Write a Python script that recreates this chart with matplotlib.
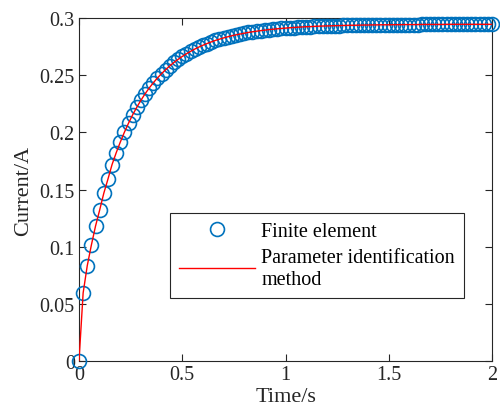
import matplotlib
matplotlib.use("Agg")
import matplotlib.pyplot as plt
import numpy as np

# Time samples (s): every 0.02 s from 0 to 2
time_s = [round(0.02 * k, 2) for k in range(101)]

# Finite element current (A)
fe_current = [
    0.0, 0.0595, 0.0834, 0.1015, 0.1180, 0.1320, 0.1467, 0.1590, 0.1718, 0.1821,
    0.1915, 0.2002, 0.2081, 0.2154, 0.2220, 0.2281, 0.2337, 0.2388, 0.2434, 0.2476,
    0.2514, 0.2549, 0.2582, 0.2612, 0.2639, 0.2664, 0.2687, 0.2708, 0.2728, 0.2746,
    0.2762, 0.2777, 0.2791, 0.2804, 0.2815, 0.2826, 0.2836, 0.2845, 0.2853, 0.2860,
    0.2867, 0.2874, 0.2880, 0.2885, 0.2890, 0.2894, 0.2899, 0.2902, 0.2906, 0.2909,
    0.2912, 0.2915, 0.2917, 0.2920, 0.2922, 0.2924, 0.2925, 0.2927, 0.2929, 0.2930,
    0.2931, 0.2932, 0.2933, 0.2934, 0.2935, 0.2936, 0.2937, 0.2937, 0.2938, 0.2939,
    0.2939, 0.2940, 0.2940, 0.2941, 0.2941, 0.2941, 0.2942, 0.2942, 0.2942, 0.2943,
    0.2943, 0.2943, 0.2943, 0.2944, 0.2944, 0.2944, 0.2944, 0.2944, 0.2944, 0.2945,
    0.2945, 0.2945, 0.2945, 0.2945, 0.2945, 0.2945, 0.2945, 0.2945, 0.2945, 0.2945,
    0.2945,
]

# Parameter identification method current (A) — follows the same curve
pim_current = list(fe_current)

x_ticks = [0, 0.5, 1, 1.5, 2]
x_tick_labels = ["0", "0.5", "1", "1.5", "2"]
y_ticks = [0, 0.05, 0.1, 0.15, 0.2, 0.25, 0.3]
y_tick_labels = ["0", "0.05", "0.1", "0.15", "0.2", "0.25", "0.3"]

plt.rcParams['font.family'] = ['Liberation Serif', 'DejaVu Serif']
plt.rcParams['mathtext.fontset'] = 'stix'

fig = plt.figure(figsize=(5.0, 4.14), dpi=100)
ax = fig.add_axes([0.158, 0.1256, 0.826, 0.8284])

blue = '#0072BD'
axcol = '#262626'

ax.plot(time_s, fe_current, linestyle='none', marker='o', markersize=10,
        markerfacecolor='none', markeredgecolor=blue, markeredgewidth=1.2,
        clip_on=False, zorder=3, label='Finite element')
ax.plot(time_s, pim_current, color='#FF0000', linewidth=1.0, zorder=4,
        label='Parameter identification\nmethod')

ax.set_xlim(0, 2)
ax.set_ylim(0, 0.3)
ax.set_xticks(x_ticks)
ax.set_xticklabels(x_tick_labels)
ax.set_yticks(y_ticks)
ax.set_yticklabels(y_tick_labels)

ax.tick_params(direction='in', length=5, width=0.8, colors=axcol,
               labelsize=14.5, top=True, right=True, pad=3)
for s in ax.spines.values():
    s.set_color(axcol)
    s.set_linewidth(0.8)

ax.set_xlabel('Time/s', fontsize=16, color=axcol, labelpad=2)
ax.set_ylabel('Current/A', fontsize=16, color=axcol, labelpad=5)

leg = ax.legend(loc='upper left', bbox_to_anchor=(0.22, 0.431),
                fontsize=14.5, fancybox=False, frameon=True,
                edgecolor=axcol, handlelength=3.8, handletextpad=0.3,
                borderpad=0.45, labelspacing=0.32, borderaxespad=0.0,
                framealpha=1.0)
leg.get_frame().set_linewidth(0.8)

fig.savefig('out.png', dpi=100)
